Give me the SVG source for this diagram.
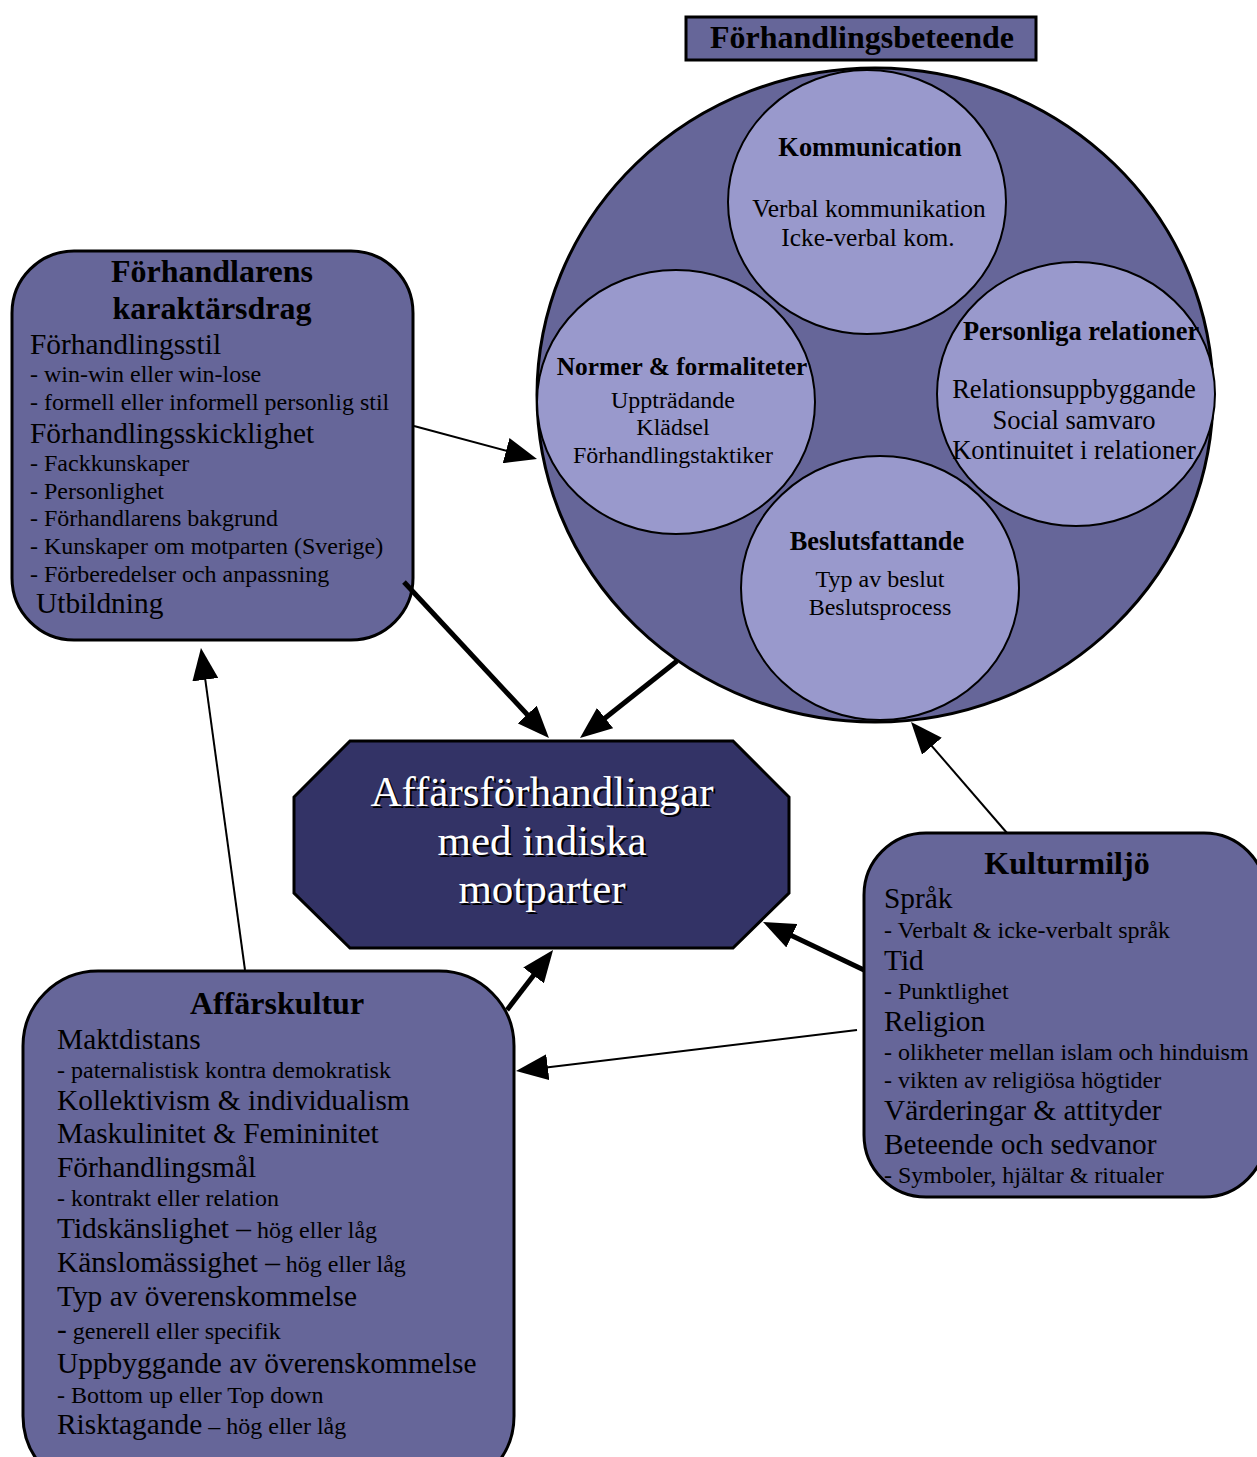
<svg xmlns="http://www.w3.org/2000/svg" width="1257" height="1457" viewBox="0 0 1257 1457">
  <style>
    text { font-family: "Liberation Serif", "Times New Roman", serif; fill: #000; }
    .box { fill: #666699; stroke: #000; stroke-width: 3; }
    .inner { fill: #9999cc; stroke: #000; stroke-width: 2; }
    .ttl { font-weight: bold; font-size: 32px; text-anchor: middle; }
    .sub { font-weight: bold; font-size: 26.4px; text-anchor: middle; }
    .cin { font-size: 24px; text-anchor: middle; }
    .big { font-size: 29.4px; }
    .sm { font-size: 24px; }
    .hero { font-size: 43px; text-anchor: middle; fill: #fff; }
    .hero-sh { font-size: 43px; text-anchor: middle; fill: #000; }
    .thin { stroke: #000; stroke-width: 2; fill: none; marker-end: url(#head); }
    .thick { stroke: #000; stroke-width: 5; fill: none; marker-end: url(#head); }
  </style>
  <defs>
    <marker id="head" viewBox="0 0 32 26" refX="14" refY="13" markerWidth="32" markerHeight="26" markerUnits="userSpaceOnUse" orient="auto">
      <path d="M0,0 L32,13 L0,26 z" fill="#000"/>
    </marker>
  </defs>

  <rect width="1257" height="1457" fill="#fff"/>

  <!-- Förhandlingsbeteende: heading and circle of four aspects -->
  <g id="beteende">
    <rect class="box" x="686" y="17" width="350" height="43"/>
    <text class="ttl" x="862" y="48">Förhandlingsbeteende</text>
    <ellipse class="box" cx="875" cy="395" rx="338" ry="327"/>
  </g>
  <g id="kommunikation">
    <ellipse class="inner" cx="867" cy="202" rx="139" ry="132"/>
    <text class="sub" x="870" y="156">Kommunication</text>
    <text class="cin" x="869" y="217" style="font-size:25.4px">Verbal kommunikation</text>
    <text class="cin" x="868" y="246" style="font-size:25.4px">Icke-verbal kom.</text>
  </g>
  <g id="normer">
    <ellipse class="inner" cx="676" cy="402" rx="139" ry="132"/>
    <text class="sub" x="682" y="375" style="font-size:25.4px">Normer &amp; formaliteter</text>
    <text class="cin" x="673" y="408">Uppträdande</text>
    <text class="cin" x="673" y="435">Klädsel</text>
    <text class="cin" x="673" y="463">Förhandlingstaktiker</text>
  </g>
  <g id="personliga">
    <ellipse class="inner" cx="1076" cy="394" rx="139" ry="132"/>
    <text class="sub" x="1081" y="340">Personliga relationer</text>
    <text class="cin" x="1074" y="398" style="font-size:26.6px">Relationsuppbyggande</text>
    <text class="cin" x="1074" y="429" style="font-size:26.6px">Social samvaro</text>
    <text class="cin" x="1074" y="459" style="font-size:26.6px">Kontinuitet i relationer</text>
  </g>
  <g id="beslut">
    <ellipse class="inner" cx="880" cy="588" rx="139" ry="132"/>
    <text class="sub" x="877" y="550">Beslutsfattande</text>
    <text class="cin" x="880" y="587">Typ av beslut</text>
    <text class="cin" x="880" y="615">Beslutsprocess</text>
  </g>

  <!-- Förhandlarens karaktärsdrag -->
  <g id="karaktarsdrag">
    <rect class="box" x="12" y="251" width="401" height="389" rx="62"/>
    <text class="ttl" x="212" y="282">Förhandlarens</text>
    <text class="ttl" x="212" y="319">karaktärsdrag</text>
    <text class="big" x="30" y="354">Förhandlingsstil</text>
    <text class="sm" x="30" y="382">- win-win eller win-lose</text>
    <text class="sm" x="30" y="410">- formell eller informell personlig stil</text>
    <text class="big" x="30" y="443">Förhandlingsskicklighet</text>
    <text class="sm" x="30" y="471">- Fackkunskaper</text>
    <text class="sm" x="30" y="499">- Personlighet</text>
    <text class="sm" x="30" y="526">- Förhandlarens bakgrund</text>
    <text class="sm" x="30" y="554">- Kunskaper om motparten (Sverige)</text>
    <text class="sm" x="30" y="582">- Förberedelser och anpassning</text>
    <text class="big" x="36" y="613">Utbildning</text>
  </g>

  <!-- Central octagon -->
  <g id="affarsforhandlingar">
    <polygon points="350,741 733,741 789,797 789,893 733,948 350,948 294,893 294,797" fill="#333366" stroke="#000" stroke-width="3"/>
    <text class="hero-sh" x="544" y="808">Affärsförhandlingar</text>
    <text class="hero-sh" x="544" y="857">med indiska</text>
    <text class="hero-sh" x="544" y="905">motparter</text>
    <text class="hero" x="542" y="806">Affärsförhandlingar</text>
    <text class="hero" x="542" y="855">med indiska</text>
    <text class="hero" x="542" y="903">motparter</text>
  </g>

  <!-- Kulturmiljö -->
  <g id="kulturmiljo">
    <rect class="box" x="864" y="833" width="402" height="364" rx="62"/>
    <text class="ttl" x="1067" y="874">Kulturmiljö</text>
    <text class="big" x="884" y="908">Språk</text>
    <text class="sm" x="884" y="938">- Verbalt &amp; icke-verbalt språk</text>
    <text class="big" x="884" y="970">Tid</text>
    <text class="sm" x="884" y="999">- Punktlighet</text>
    <text class="big" x="884" y="1031">Religion</text>
    <text class="sm" x="884" y="1060">- olikheter mellan islam och hinduism</text>
    <text class="sm" x="884" y="1088">- vikten av religiösa högtider</text>
    <text class="big" x="884" y="1120">Värderingar &amp; attityder</text>
    <text class="big" x="884" y="1154">Beteende och sedvanor</text>
    <text class="sm" x="884" y="1183">- Symboler, hjältar &amp; ritualer</text>
  </g>

  <!-- Affärskultur -->
  <g id="affarskultur">
    <rect class="box" x="23" y="971" width="491" height="520" rx="75"/>
    <text class="ttl" x="277" y="1014">Affärskultur</text>
    <text class="big" x="57" y="1049">Maktdistans</text>
    <text class="sm" x="57" y="1078">- paternalistisk kontra demokratisk</text>
    <text class="big" x="57" y="1110">Kollektivism &amp; individualism</text>
    <text class="big" x="57" y="1143">Maskulinitet &amp; Femininitet</text>
    <text class="big" x="57" y="1177">Förhandlingsmål</text>
    <text class="sm" x="57" y="1206">- kontrakt eller relation</text>
    <text class="big" x="57" y="1238">Tidskänslighet –<tspan class="sm"> hög eller låg</tspan></text>
    <text class="big" x="57" y="1272">Känslomässighet –<tspan class="sm"> hög eller låg</tspan></text>
    <text class="big" x="57" y="1306">Typ av överenskommelse</text>
    <text class="big" x="57" y="1339">-<tspan class="sm"> generell eller specifik</tspan></text>
    <text class="big" x="57" y="1373">Uppbyggande av överenskommelse</text>
    <text class="sm" x="57" y="1403">- Bottom up eller Top down</text>
    <text class="big" x="57" y="1434">Risktagande<tspan class="sm"> – hög eller låg</tspan></text>
  </g>

  <!-- Connectors -->
  <g id="connectors">
    <line class="thin" x1="414" y1="426" x2="519.6" y2="454.3"/>
    <line class="thick" x1="404" y1="582" x2="536.7" y2="724.8"/>
    <line class="thick" x1="677" y1="661" x2="594.1" y2="726.8"/>
    <line class="thin" x1="245" y1="970" x2="203.4" y2="665.8"/>
    <line class="thick" x1="507" y1="1010" x2="542.1" y2="964.3"/>
    <line class="thick" x1="864" y1="970" x2="779.3" y2="929.7"/>
    <line class="thin" x1="857" y1="1030" x2="533.9" y2="1068.9"/>
    <line class="thin" x1="1007" y1="833" x2="922.8" y2="735.6"/>
  </g>
</svg>
